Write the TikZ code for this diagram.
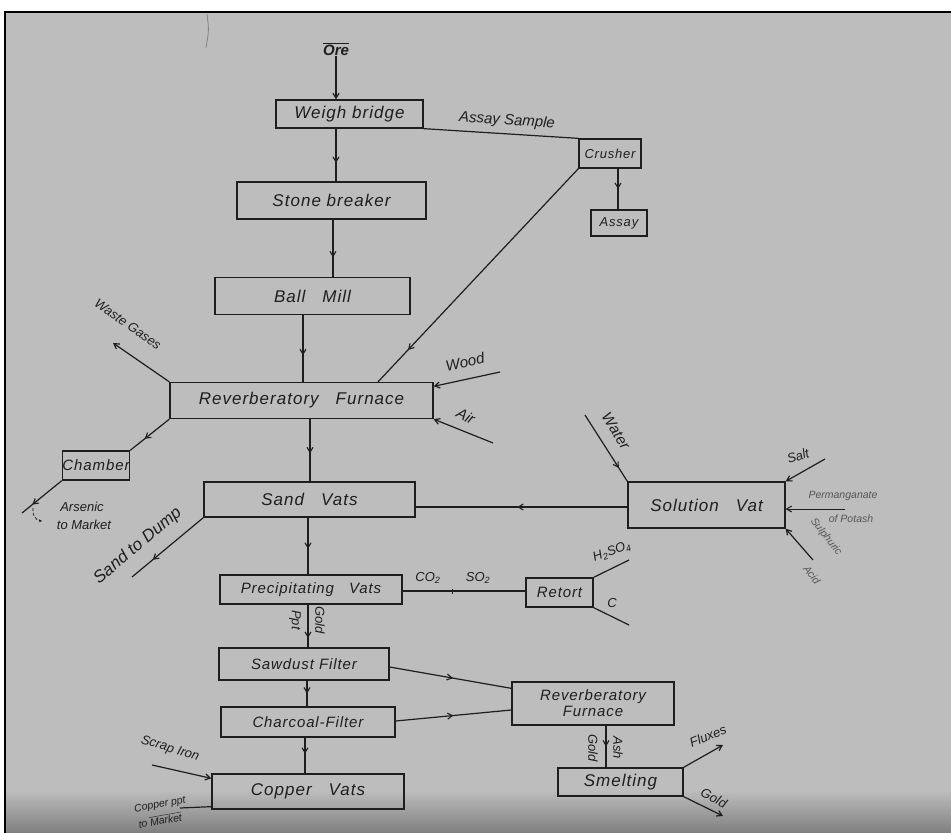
\documentclass[tikz,border=0pt]{standalone}
\usepackage{fontspec}
\setmainfont{Liberation Sans}[LetterSpace=6]
\newfontfamily\labfam{Liberation Sans}
\usetikzlibrary{arrows.meta,decorations.markings,calc}
\definecolor{bgc}{HTML}{BDBDBD}
\definecolor{ink}{HTML}{1E1E1E}
\newcommand{\fbx}{\fontsize{17}{18}\selectfont\itshape}
\newcommand{\fmd}{\fontsize{15}{16}\selectfont\itshape}
\newcommand{\fsm}{\fontsize{13}{14}\selectfont\itshape}
\newcommand{\ftn}{\fontsize{10.5}{11}\selectfont\itshape}
\newcommand{\lbx}{\labfam\fontsize{17}{18}\selectfont\itshape}
\newcommand{\lmd}{\labfam\fontsize{15}{16}\selectfont\itshape}
\newcommand{\lsm}{\labfam\fontsize{13}{14}\selectfont\itshape}
\newcommand{\ltn}{\labfam\fontsize{10.5}{11}\selectfont\itshape}
\tikzset{
  box/.style={draw=ink, line width=1.3pt, inner sep=0pt, font=\fbx, text=ink},
  lab/.style={font=\lmd, text=ink, inner sep=0.5pt},
  ln/.style={draw=ink, line width=1.2pt},
  arr/.style={ln, -{Straight Barb[length=5pt,width=6pt]}},
  midarr/.style={postaction={decorate}, decoration={markings,
     mark=at position #1 with {\arrow[ink,line width=1.1pt]{Straight Barb[length=5pt,width=6pt]}}}},
  midtick/.style={postaction={decorate}, decoration={markings,
     mark=at position #1 with {\draw[ink,line width=1pt] (0,-2.5pt) -- (0,2.5pt);}}}
}
\begin{document}
\begin{tikzpicture}[x=1pt,y=-1pt]
\useasboundingbox (0,0) rectangle (951,833);
\fill[white] (0,0) rectangle (951,833);
\fill[bgc] (5,12) rectangle (951,833);
\shade[top color=bgc, bottom color=black!50] (5,790) rectangle (951,833);
\draw[line width=1.6pt] (5,833) -- (5,12) -- (951,12);
\draw[ink!55, line width=0.8pt] (207,14) .. controls (209,30) .. (206,48);

% boxes
\node[box, minimum width=147pt, minimum height=28pt] (wb) at (349.5,114) {Weigh bridge};
\node[box, minimum width=189pt, minimum height=37pt] (sb) at (331.5,200.5) {Stone breaker};
\node[box, minimum width=195pt, minimum height=37pt] (bm) at (312.5,296) {Ball\quad Mill};
\node[box, minimum width=263pt, minimum height=36pt] (rf) at (301.5,400.5) {Reverberatory\quad Furnace};
\node[box, font=\fsm, minimum width=62pt, minimum height=29pt] (cr) at (610,153.5) {Crusher};
\node[box, font=\fsm, minimum width=56pt, minimum height=26pt] (as) at (619,223) {Assay};
\node[box, font=\fmd, minimum width=62pt, minimum height=29pt] (ch) at (96,465.5) {Chamber};
\node[box, minimum width=211pt, minimum height=35pt] (sv) at (309.5,499.5) {Sand\quad Vats};
\node[box, minimum width=157pt, minimum height=46pt] (so) at (706.5,505) {Solution\quad Vat};
\node[box, font=\fmd, minimum width=182pt, minimum height=29pt] (pv) at (311,589.5) {Precipitating\quad Vats};
\node[box, font=\fmd, minimum width=67pt, minimum height=29pt] (re) at (559.5,592.5) {Retort};
\node[box, font=\fmd, minimum width=170pt, minimum height=32pt] (sf) at (304,664) {Sawdust Filter};
\node[box, font=\fmd, minimum width=174pt, minimum height=30pt] (cf) at (308,722) {Charcoal-Filter};
\node[box, minimum width=192pt, minimum height=35pt] (cv) at (308,791.5) {Copper\quad Vats};
\node[box, font=\fmd, align=center, minimum width=162pt, minimum height=43pt] (rf2) at (593,703.5) {Reverberatory\\Furnace};
\node[box, minimum width=125pt, minimum height=28pt] (sm) at (620.5,782) {Smelting};

% free ends
\coordinate (wg) at (113,343);
\coordinate (wd) at (500,372);
\coordinate (ai) at (493,443);
\coordinate (ar) at (22,513);
\coordinate (c1) at (33,508);
\coordinate (c2) at (42,521);
\coordinate (wa) at (585,415);
\coordinate (sa) at (825,459);
\coordinate (pe) at (845,509);
\coordinate (su) at (813,560);
\coordinate (sd) at (132,577);
\coordinate (hs) at (629,560);
\coordinate (cc) at (629,625);
\coordinate (fx) at (723,745);
\coordinate (go) at (723,816);
\coordinate (si) at (152,765);
\coordinate (cp) at (180,808);

% Ore
\node[lab, font=\lmd\bfseries] (ore) at (336,49) {$\overline{\mbox{Ore}}$};

% connectors
\draw[arr] (ore.south) -- ([xshift=-13.5pt]wb.north);
\draw[ln, midarr=0.65] ([xshift=-13.5pt]wb.south) -- ([xshift=4.5pt]sb.north);
\draw[ln, midarr=0.66] ([xshift=1.5pt]sb.south) -- ([xshift=20.5pt]bm.north);
\draw[ln, midarr=0.6] ([xshift=-9.5pt]bm.south) -- ([xshift=1.5pt]rf.north);
\draw[ln] (wb.south east) -- (cr.north west);
\draw[ln, midarr=0.5] ([xshift=8pt]cr.south) -- ([xshift=-1pt]as.north);
\draw[ln, midarr=0.85] (cr.south west) -- ([xshift=76.5pt]rf.north);
\draw[arr] (rf.north west) -- (wg);
\draw[arr] (wd) -- ([yshift=-4.5pt]rf.north east);
\draw[arr] (ai) -- (rf.south east);
\draw[ln, midarr=0.63] (rf.south west) -- (ch.north east);
\draw[ln, midarr=0.74] (ch.south west) -- (ar);
\draw[ink, densely dashed, line width=0.8pt, -{Stealth[length=3pt,width=3pt]}] (c1) to[bend right=50] (c2);
\draw[ln, midarr=0.55] ([xshift=8.5pt]rf.south) -- ([xshift=0.5pt]sv.north);
\draw[ln, midarr=0.52] ([yshift=-2pt]so.west) -- ([yshift=-7.5pt]sv.east);
\draw[ln, midarr=0.8] (wa) -- (so.north west);
\draw[arr] (sa) -- (so.north east);
\draw[arr, line width=1pt] (pe) -- ([yshift=-4pt]so.east);
\draw[arr] (su) -- (so.south east);
\draw[ln, midarr=0.71] (sv.south west) -- (sd);
\draw[ln, midarr=0.55] ([xshift=-1.5pt]sv.south) -- ([xshift=-3pt]pv.north);
\draw[ln, midtick=0.41] ([yshift=-1.5pt]pv.east) -- ([yshift=1.5pt]re.west);
\draw[ln] (re.north east) -- (hs);
\draw[ln] (re.south east) -- (cc);
\draw[ln, midarr=0.78] ([xshift=-3pt]pv.south) -- ([xshift=4pt]sf.north);
\draw[ln, midarr=0.5] ([xshift=3pt]sf.south) -- ([xshift=-1pt]cf.north);
\draw[ln, midarr=0.45] ([xshift=-3pt]cf.south) -- ([xshift=-3pt]cv.north);
\draw[ln, midarr=0.52] ([yshift=-3pt]sf.east) -- ([yshift=-7pt]rf2.north west);
\draw[ln, midarr=0.5] ([yshift=1pt]cf.east) -- ([yshift=-6.5pt]rf2.west);
\draw[ln, midarr=0.5] ([xshift=13pt]rf2.south) -- ([xshift=-14.5pt]sm.north);
\draw[arr] (sm.north east) -- (fx);
\draw[arr] (sm.south east) -- (go);
\draw[arr] (si) -- ([yshift=-5pt]cv.north west);
\draw[ln] ([yshift=3pt]cv.south west) -- (cp);

% labels
\node[lab, rotate=-4] (l1) at (507,121) {Assay Sample};
\node[lab, font=\lsm, rotate=-35] (l2) at (128,324) {Waste Gases};
\node[lab, rotate=12] (l3) at (465,362) {Wood};
\node[lab, rotate=-28] (l4) at (466,416) {Air};
\node[lab, font=\lsm] (l5) at (82,507) {Arsenic};
\node[lab, font=\lsm] (l6) at (84,525) {to Market};
\node[lab, rotate=-58] (l7) at (616,431) {Water};
\node[lab, font=\lsm, rotate=18] (l8) at (798,456) {Salt};
\node[lab, font=\ltn, text=ink!75] (l9) at (843,496) {Permanganate};
\node[lab, font=\ltn, text=ink!75] (l10) at (851,519) {of Potash};
\node[lab, font=\ltn, text=ink!75, rotate=-52] (l11) at (826,537) {Sulphuric};
\node[lab, font=\ltn, text=ink!75, rotate=-52] (l12) at (812,575) {Acid};
\node[lab, font=\lbx, rotate=40] (l13) at (138,546) {Sand to Dump};
\node[lab, font=\lsm] (l14) at (428,578) {CO\textsubscript{2}};
\node[lab, font=\lsm] (l15) at (478,578) {SO\textsubscript{2}};
\node[lab, font=\lsm, rotate=20] (l16) at (612,552) {H\textsubscript{2}SO\textsubscript{4}};
\node[lab, font=\lsm] (l17) at (612,603) {C};
\node[lab, font=\lsm, rotate=-90] (l18) at (295,620) {Ppt};
\node[lab, font=\lsm, rotate=-90] (l19) at (320,620) {Gold};
\node[lab, font=\lsm, rotate=-90] (l20) at (593,748) {Gold};
\node[lab, font=\lsm, rotate=-90] (l21) at (618,748) {Ash};
\node[lab, font=\lsm, rotate=22] (l22) at (708,736) {Fluxes};
\node[lab, font=\lsm, rotate=-27] (l23) at (714,798) {Gold};
\node[lab, font=\lsm, rotate=-17] (l24) at (170,749) {Scrap Iron};
\node[lab, font=\ltn, rotate=10] (l25) at (160,805) {Copper ppt};
\node[lab, font=\ltn, rotate=10] (l26) at (160,820) {to $\overline{\mbox{Market}}$};
\end{tikzpicture}
\end{document}
